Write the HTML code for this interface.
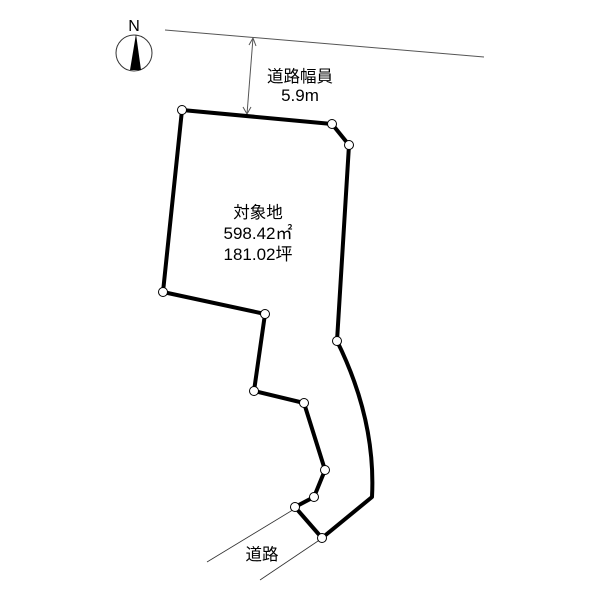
<!DOCTYPE html>
<html><head><style>body{margin:0;background:#fff}svg{display:block}text{font-family:"Liberation Sans","Noto Sans CJK JP",sans-serif;fill:#000}</style></head>
<body><svg width="600" height="600" viewBox="0 0 600 600">
<line x1="165" y1="30" x2="484" y2="57" stroke="#555" stroke-width="1"/>
<line x1="253" y1="38" x2="247" y2="114" stroke="#555" stroke-width="1"/>
<polyline points="249,45 253,38 256,46" fill="none" stroke="#555"/>
<polyline points="243,107 247,114 251,107" fill="none" stroke="#555"/>
<text x="300" y="82" font-size="16.5" text-anchor="middle">道路幅員</text>
<text x="300" y="101" font-size="17" text-anchor="middle">5.9m</text>
<circle cx="134" cy="53" r="18" fill="none" stroke="#333" stroke-width="1"/>
<polygon points="136,34 130,70 141,70" fill="#000"/>
<text x="134" y="31" font-size="16" text-anchor="middle">N</text>
<line x1="296" y1="508" x2="207" y2="562" stroke="#333" stroke-width="0.8"/>
<line x1="321" y1="539" x2="260" y2="580" stroke="#333" stroke-width="0.8"/>
<text x="262" y="560" font-size="16.5" text-anchor="middle">道路</text>
<path d="M182,110 L332,124 L349,145 L337,341 Q376,420 372,497 L322,538 L295,507 L314,497 L325,470 L304,403 L254,391 L265,314 L163,292 Z" fill="none" stroke="#000" stroke-width="4" stroke-linejoin="round"/>
<g fill="#fff" stroke="#000" stroke-width="1">
<circle cx="182" cy="110" r="4.5"/><circle cx="332" cy="124" r="4.5"/><circle cx="349" cy="145" r="4.5"/><circle cx="337" cy="341" r="4.5"/><circle cx="322" cy="538" r="4.5"/><circle cx="295" cy="507" r="4.5"/><circle cx="314" cy="497" r="4.5"/><circle cx="325" cy="470" r="4.5"/><circle cx="304" cy="403" r="4.5"/><circle cx="254" cy="391" r="4.5"/><circle cx="265" cy="314" r="4.5"/><circle cx="163" cy="292" r="4.5"/>
</g>
<text x="258" y="218" font-size="16.5" text-anchor="middle">対象地</text>
<text x="258" y="239" font-size="17" text-anchor="middle">598.42㎡</text>
<text x="258" y="260" font-size="17" text-anchor="middle">181.02坪</text>
</svg></body></html>
